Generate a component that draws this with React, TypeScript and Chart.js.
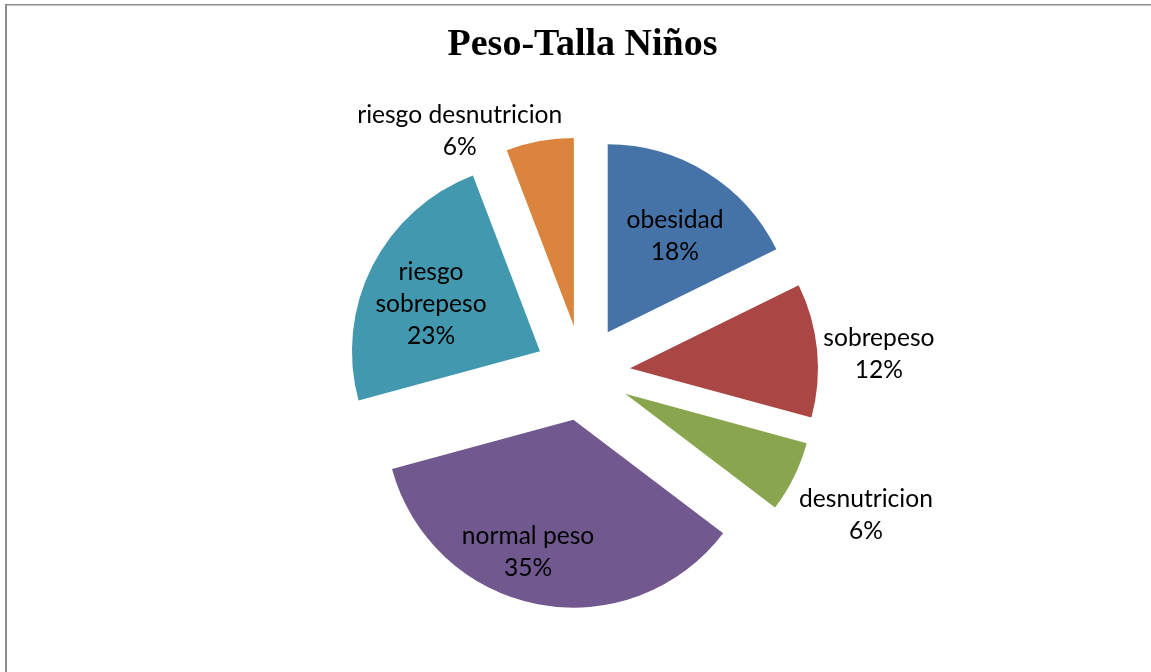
import React, { useEffect, useRef } from "react";
import { Chart, registerables } from "chart.js";

Chart.register(...registerables);

// ---- data ----
const categories = [
  "obesidad",
  "sobrepeso",
  "desnutricion",
  "normal peso",
  "riesgo sobrepeso",
  "riesgo desnutricion",
];
const shares = [17.7, 11.5, 6.1, 35.4, 23.4, 5.8];
const sliceColors = ["#4572A7", "#AA4643", "#89A54E", "#71588F", "#4198AF", "#DB843D"];

// ---- label layout (relative to each slice's bisector) ----
const labelAngleShiftDeg = [2.0, 1.7, 0.3, 5.95, -2.1, -16.4];
const labelRadiusFactor = [0.882, 1.58, 1.685, 0.994, 0.888, 1.446];
const labelWrapWords = [false, false, false, false, true, false];

const PIE_RADIUS = 188;
const EXPLODE_PX = 47.7;
const LABEL_FONT = "Lato";
const LABEL_SIZE = 24.6;
const LABEL_LINE = 32;

// Pull every slice out along its bisector while drawing, then restore.
const explodePlugin = {
  id: "explodeSlices",
  beforeDatasetDraw(chart: any, args: any) {
    const meta = chart.getDatasetMeta(args.index);
    meta.data.forEach((arc: any) => {
      const mid = (arc.startAngle + arc.endAngle) / 2;
      arc.$baseX = arc.x;
      arc.$baseY = arc.y;
      arc.x = arc.x + Math.cos(mid) * EXPLODE_PX;
      arc.y = arc.y + Math.sin(mid) * EXPLODE_PX;
    });
  },
  afterDatasetDraw(chart: any, args: any) {
    const meta = chart.getDatasetMeta(args.index);
    meta.data.forEach((arc: any) => {
      if (arc.$baseX !== undefined) {
        arc.x = arc.$baseX;
        arc.y = arc.$baseY;
      }
    });
  },
};

// Category name and percentage for each slice.
const sliceLabelPlugin = {
  id: "sliceLabels",
  afterDatasetsDraw(chart: any) {
    const ctx = chart.ctx;
    const meta = chart.getDatasetMeta(0);
    const values: number[] = chart.data.datasets[0].data;
    const total = values.reduce((a, b) => a + b, 0);
    ctx.save();
    ctx.font = `${LABEL_SIZE}px ${LABEL_FONT}`;
    ctx.fillStyle = "#000000";
    ctx.textAlign = "center";
    ctx.textBaseline = "alphabetic";
    const capHalf = (LABEL_SIZE * 0.72) / 2;
    meta.data.forEach((arc: any, i: number) => {
      const mid = (arc.startAngle + arc.endAngle) / 2 + (labelAngleShiftDeg[i] * Math.PI) / 180;
      const dist = labelRadiusFactor[i] * arc.outerRadius;
      const cx = arc.x + Math.cos(mid) * dist;
      const cy = arc.y + Math.sin(mid) * dist;
      const name = chart.data.labels[i] as string;
      const lines = labelWrapWords[i] ? name.split(" ") : [name];
      lines.push(Math.round((values[i] / total) * 100) + "%");
      const n = lines.length;
      lines.forEach((line: string, k: number) => {
        const y = cy - ((n - 1) / 2) * LABEL_LINE + k * LABEL_LINE + capHalf;
        ctx.fillText(line, cx, y);
      });
    });
    ctx.restore();
  },
};

// Chart frame (left and top edges).
const framePlugin = {
  id: "frame",
  beforeDraw(chart: any) {
    const ctx = chart.ctx;
    ctx.save();
    ctx.fillStyle = "#ffffff";
    ctx.fillRect(0, 0, chart.width, chart.height);
    ctx.fillStyle = "#8c8c8c";
    ctx.fillRect(5, 4, 2, chart.height - 4);
    ctx.fillRect(5, 4, chart.width - 5, 1.5);
    ctx.restore();
  },
};

export default function App() {
  const canvasRef = useRef<HTMLCanvasElement | null>(null);

  useEffect(() => {
    if (!canvasRef.current) return;
    const chart = new Chart(canvasRef.current, {
      type: "pie",
      data: {
        labels: categories,
        datasets: [
          {
            data: shares,
            backgroundColor: sliceColors,
            borderWidth: 0,
            radius: PIE_RADIUS,
          } as any,
        ],
      },
      options: {
        responsive: false,
        animation: false,
        events: [],
        layout: { padding: { left: 14, right: 0, top: 0, bottom: 0 } },
        plugins: {
          legend: { display: false },
          tooltip: { enabled: false },
          title: {
            display: true,
            text: "Peso-Talla Niños",
            color: "#000000",
            font: { family: "Liberation Serif", size: 38, weight: "bold", lineHeight: 1.2 },
            padding: { top: 22, bottom: 6 },
          },
        },
      },
      plugins: [framePlugin, explodePlugin, sliceLabelPlugin],
    });
    return () => chart.destroy();
  }, []);

  return (
    <div style={{ position: "fixed", left: 0, top: 0, width: 1151, height: 672, background: "#fff" }}>
      <canvas ref={canvasRef} width={1151} height={672} />
    </div>
  );
}
